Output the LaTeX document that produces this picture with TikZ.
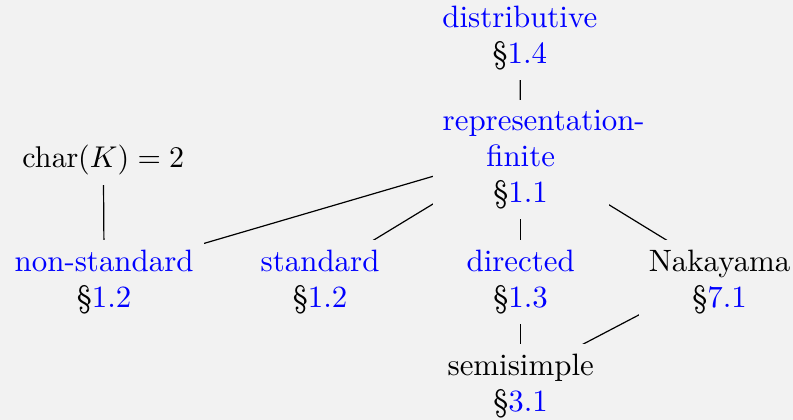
\documentclass[tikz,border=0pt]{standalone}
\usepackage{amsmath, amssymb}
\usepackage{tikz}
\usepackage{xcolor}
\definecolor{bgcol}{RGB}{242,242,242}
\newcommand{\secref}[1]{\S\textcolor{blue}{#1}}
\pgfdeclarelayer{background}
\pgfdeclarelayer{edges}
\pgfsetlayers{background,edges,main}

\begin{document}
\begin{tikzpicture}[scale=1,
    every node/.style={align=center, fill=bgcol,
        font=\fontsize{10.3pt}{12pt}\selectfont},
    link/.style={shift={(0,3pt)}}]
    % Background
    \useasboundingbox (0,0) rectangle (9.290,-4.909);
    \begin{pgfonlayer}{background}
        \fill[bgcol] (-1,1) rectangle (10.3,-6);
    \end{pgfonlayer}

    % Top
    \node (dist) at (6.09,-0.45) {\textcolor{blue}{distributive}\\\secref{1.4}};
    \node[text width=52pt] (repfin) at (6.10,-1.87)
        {\mbox{\textcolor{blue}{representation-}}\\\textcolor{blue}{finite}\\\secref{1.1}};
    \node (char) at (1.21,-1.87) {$\mathrm{char}(K)=2$};

    % Middle row
    \node (nonstd) at (1.22,-3.30) {\textcolor{blue}{non-standard}\\\secref{1.2}};
    \node (std) at (3.75,-3.30) {\textcolor{blue}{standard}\\\secref{1.2}};
    \node (dir) at (6.10,-3.30) {\textcolor{blue}{directed}\\\secref{1.3}};
    \node (naka) at (8.43,-3.30) {Nakayama\\\secref{7.1}};

    % Bottom
    \node (semi) at (6.10,-4.52) {semisimple\\\secref{3.1}};

    % Edges (slightly above the centres, hidden under the nodes)
    \begin{pgfonlayer}{edges}
        \draw ([link]dist.center) -- ([link]repfin.center);
        \draw ([link]char.center) -- ([link]nonstd.center);
        \draw ([link]repfin.center) -- ([link]nonstd.center);
        \draw ([link]repfin.center) -- ([link]std.center);
        \draw ([link]repfin.center) -- ([link]dir.center);
        \draw ([link]repfin.center) -- ([link]naka.center);
        \draw ([link]dir.center) -- ([link]semi.center);
        \draw ([link]naka.center) -- ([link]semi.center);
    \end{pgfonlayer}
\end{tikzpicture}
\end{document}
